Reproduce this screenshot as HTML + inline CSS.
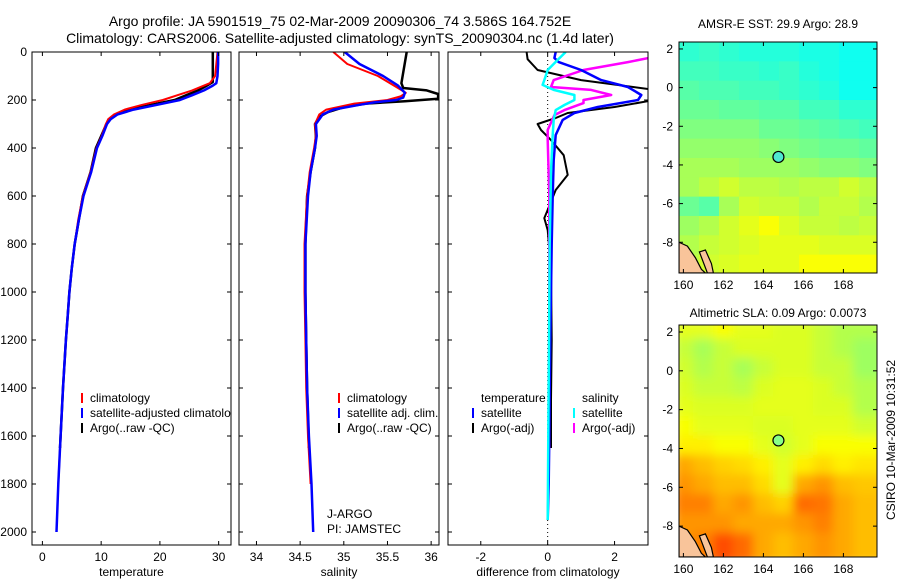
<!DOCTYPE html>
<html><head><meta charset="utf-8"><style>
body{margin:0;background:#fff;}
svg{font-family:"Liberation Sans",sans-serif;}
</style></head><body>
<svg id="c" width="900" height="580" xmlns="http://www.w3.org/2000/svg">
<text x="340" y="26" font-size="14" text-anchor="middle">Argo profile: JA 5901519_75 02-Mar-2009 20090306_74 3.586S 164.752E</text>
<text x="340" y="43" font-size="14" text-anchor="middle">Climatology: CARS2006. Satellite-adjusted climatology: synTS_20090304.nc (1.4d later)</text>
<text x="778" y="28" font-size="12" text-anchor="middle">AMSR-E SST: 29.9 Argo: 28.9</text>
<text x="778" y="317" font-size="12" text-anchor="middle">Altimetric SLA: 0.09 Argo: 0.0073</text>
<text transform="translate(895,440) rotate(-90)" font-size="12" text-anchor="middle">CSIRO 10-Mar-2009 10:31:52</text>
<text x="327" y="518" font-size="12">J-ARGO</text>
<text x="327" y="533" font-size="12">PI: JAMSTEC</text>
</svg>
<script>
// ---- profile data ----
const tDepthBlue=[0,50,100,130,140,160,180,200,220,240,260,280,300,350,400,500,600,700,800,900,1000,1100,1200,1400,1600,1800,2000];
const tempSat=[29.9,29.9,29.8,29.6,29.0,27.5,25.5,23.4,19.5,15.5,12.8,11.6,11.0,10.2,9.3,8.3,7.0,6.2,5.5,5.0,4.6,4.3,4.0,3.5,3.1,2.7,2.4];
const tDepthRed=[0,50,100,130,140,160,180,200,220,240,260,280,300,350,400,500,600,700,800,900,1000,1100,1200,1400,1600,1800];
const tempClim=[29.8,29.6,29.4,28.5,27.5,25.5,23.0,20.5,17.0,14.0,12.2,11.2,10.8,10.1,9.2,8.2,6.9,6.1,5.5,5.0,4.6,4.3,4.0,3.5,3.1,2.7];
const tDepthArgo=[0,100,125,140,160,180,200,220,240,260,280,300,350,400,500,600,700,800,900,1000,1100,1200,1400,1650];
const tempArgo=[29.0,29.0,29.0,28.0,26.5,24.5,22.5,18.5,15.0,12.5,11.4,10.9,10.0,9.1,8.2,6.9,6.2,5.5,5.0,4.6,4.3,4.0,3.5,3.0];

const sDepthBlue=[0,50,100,140,170,190,200,210,220,240,260,300,350,400,500,600,800,1000,1200,1400,1600,1800,2000];
const salSat=[35.01,35.18,35.45,35.62,35.70,35.68,35.60,35.35,35.18,34.88,34.76,34.68,34.69,34.67,34.62,34.59,34.56,34.56,34.57,34.58,34.60,34.63,34.65];
const sDepthRed=[0,50,100,150,170,185,200,215,240,260,300,350,400,500,600,800,1000,1200,1400,1600,1800];
const salClim=[34.88,35.04,35.39,35.62,35.71,35.65,35.50,35.12,34.80,34.72,34.67,34.68,34.66,34.61,34.58,34.55,34.55,34.56,34.57,34.59,34.62];
const sDepthArgo=[0,130,150,160,175,195,205,215,230,250,270,300,350,400,500,600,800,1000,1200,1400,1650];
const salArgo=[35.72,35.66,35.68,35.95,36.08,36.08,35.70,35.25,35.00,34.82,34.72,34.67,34.68,34.67,34.62,34.58,34.56,34.56,34.57,34.58,34.60];

const dDepthTS=[0,25,42,75,117,146,179,200,229,254,283,346,450,600,800,1000,1200,1400,1600,1800,1950];
const diffTempSat=[0.24,0.2,0.33,1.0,1.6,2.4,2.8,2.7,1.5,0.8,0.45,0.24,0.18,0.15,0.12,0.1,0.08,0.06,0.05,0.03,0.0];
const dDepthTA=[0,30,75,117,158,200,229,254,275,300,325,367,430,512,575,658,692,742,900,1200,1450,1650];
const diffTempArgo=[-0.63,-0.6,-0.3,1.0,3.2,3.2,2.0,0.6,0.24,-0.3,-0.2,0.1,0.48,0.6,0.24,0.0,-0.1,0.0,0.1,0.12,0.1,0.1];
const dDepthSS=[0,33,75,117,137,158,179,200,221,242,283,346,500,800,1200,1600,1950];
const diffSalSat=[0.54,0.3,0.0,-0.1,-0.15,0.18,0.8,0.8,0.5,0.24,0.18,0.15,0.1,0.06,0.04,0.02,0.0];
const dDepthSA=[20,42,75,117,146,158,179,200,213,242,263,325,367,600,1000,1400,1650];
const diffSalArgo=[3.2,2.4,1.07,0.18,0.1,1.3,1.9,1.07,1.07,0.5,0.2,0.0,0.0,0.05,0.05,0.05,0.05];

// ---- map data (jet colormap index 0..1), rows north->south, cols west->east (1 deg cells) ----
const sstGrid=[
[0.42,0.43,0.42,0.41,0.41,0.41,0.40,0.40,0.39,0.39],
[0.44,0.44,0.43,0.43,0.42,0.43,0.41,0.40,0.39,0.39],
[0.46,0.45,0.45,0.44,0.44,0.43,0.42,0.41,0.39,0.39],
[0.48,0.48,0.47,0.47,0.46,0.46,0.44,0.44,0.42,0.42],
[0.50,0.50,0.50,0.50,0.48,0.48,0.47,0.46,0.45,0.44],
[0.52,0.52,0.52,0.52,0.51,0.50,0.49,0.48,0.48,0.47],
[0.54,0.54,0.54,0.53,0.53,0.53,0.52,0.51,0.51,0.50],
[0.54,0.56,0.58,0.56,0.56,0.55,0.56,0.56,0.58,0.56],
[0.48,0.46,0.54,0.58,0.57,0.57,0.55,0.57,0.57,0.55],
[0.53,0.55,0.58,0.60,0.62,0.59,0.57,0.57,0.56,0.57],
[0.55,0.57,0.58,0.59,0.60,0.60,0.60,0.59,0.59,0.59],
[0.56,0.58,0.59,0.60,0.60,0.60,0.62,0.62,0.62,0.62]];
const slaGrid=[
[0.60,0.60,0.62,0.60,0.60,0.59,0.59,0.57,0.55,0.55],
[0.57,0.54,0.57,0.59,0.59,0.59,0.59,0.57,0.55,0.53],
[0.58,0.55,0.57,0.54,0.57,0.59,0.59,0.57,0.57,0.53],
[0.59,0.57,0.57,0.56,0.59,0.60,0.60,0.59,0.57,0.55],
[0.60,0.59,0.59,0.59,0.60,0.60,0.60,0.59,0.59,0.55],
[0.62,0.60,0.60,0.60,0.59,0.59,0.60,0.60,0.60,0.58],
[0.64,0.64,0.62,0.62,0.60,0.58,0.60,0.62,0.62,0.62],
[0.71,0.69,0.67,0.66,0.64,0.60,0.64,0.66,0.64,0.65],
[0.73,0.71,0.69,0.69,0.66,0.60,0.71,0.73,0.69,0.68],
[0.75,0.75,0.71,0.73,0.69,0.67,0.77,0.76,0.71,0.69],
[0.73,0.73,0.73,0.71,0.71,0.71,0.73,0.75,0.71,0.69],
[0.73,0.75,0.80,0.77,0.71,0.69,0.71,0.73,0.71,0.69]];
const depthTicks=[0,200,400,600,800,1000,1200,1400,1600,1800,2000];
const tempTicks=[0,10,20,30];
const salTicks=[34,34.5,35,35.5,36];
const salTickLabels=["34","34.5","35","35.5","36"];
const diffTicks=[-2,0,2];
const lonTicks=[160,162,164,166,168];
const latTicks=[2,0,-2,-4,-6,-8];

const NS="http://www.w3.org/2000/svg";
const svg=document.getElementById('c');
function mk(tag,attrs,parent){const e=document.createElementNS(NS,tag);for(const k in attrs)e.setAttribute(k,attrs[k]);(parent||svg).appendChild(e);return e;}
const yD=d=>52+d*0.24;
const PTOP=52,PBOT=545;
const panels=[
 {x0:32,x1:231,min:-1.77,max:32.1,name:'temperature'},
 {x0:239,x1:439,min:33.80,max:36.09,name:'salinity'},
 {x0:448,x1:648,min:-2.98,max:3.0,name:'difference'}];
panels.forEach((p,i)=>{p.sx=v=>p.x0+(v-p.min)/(p.max-p.min)*(p.x1-p.x0);
 const cp=mk('clipPath',{id:'cp'+i});mk('rect',{x:p.x0,y:PTOP,width:p.x1-p.x0,height:PBOT-PTOP},cp);});

function line(pi,depths,vals,color,w,name){
 const p=panels[pi];
 const pts=depths.map((d,i)=>p.sx(vals[i]).toFixed(1)+','+yD(d).toFixed(1)).join(' ');
 const e=mk('polyline',{points:pts,fill:'none',stroke:color,'stroke-width':w,'clip-path':'url(#cp'+pi+')','stroke-linejoin':'round'});
 
 
}
{const p=panels[2];const z=mk('line',{x1:p.sx(0),x2:p.sx(0),y1:PTOP,y2:PBOT,stroke:'#000','stroke-width':1,'stroke-dasharray':'1,3'});

}

line(0,tDepthArgo,tempArgo,'#000',2.5,'temp-argo-line');
line(0,tDepthRed,tempClim,'#f00',2,'temp-climatology-line');
line(0,tDepthBlue,tempSat,'#00f',2.5,'temp-satellite-line');
line(1,sDepthArgo,salArgo,'#000',2.5,'sal-argo-line');
line(1,sDepthRed,salClim,'#f00',2,'sal-climatology-line');
line(1,sDepthBlue,salSat,'#00f',2.5,'sal-satellite-line');
line(2,dDepthTA,diffTempArgo,'#000',2,'diff-temp-argo-line');
line(2,dDepthSA,diffSalArgo,'#f0f',2.5,'diff-sal-argo-line');
line(2,dDepthTS,diffTempSat,'#00f',2.5,'diff-temp-satellite-line');
line(2,dDepthSS,diffSalSat,'#0ff',2.5,'diff-sal-satellite-line');

panels.forEach((p,i)=>{
 const r=mk('rect',{x:p.x0,y:PTOP,width:p.x1-p.x0,height:PBOT-PTOP,fill:'none',stroke:'#000','stroke-width':1});
 
 
 depthTicks.forEach(d=>{const y=yD(d);
  mk('line',{x1:p.x0,x2:p.x0+4,y1:y,y2:y,stroke:'#000'});mk('line',{x1:p.x1,x2:p.x1-4,y1:y,y2:y,stroke:'#000'});
  if(i===0){const t=mk('text',{x:p.x0-5,y:y+4,'font-size':12,'text-anchor':'end'});t.textContent=d;
   
   }
 });
 const ticks=i===0?tempTicks:i===1?salTicks:diffTicks;
 ticks.forEach((v,k)=>{const x=p.sx(v);
  mk('line',{x1:x,x2:x,y1:PTOP,y2:PTOP+4,stroke:'#000'});mk('line',{x1:x,x2:x,y1:PBOT,y2:PBOT-4,stroke:'#000'});
  const t=mk('text',{x:x,y:561,'font-size':12,'text-anchor':'middle'});t.textContent=i===1?salTickLabels[k]:String(v);
  
  });
 const xl=mk('text',{x:(p.x0+p.x1)/2,y:576,'font-size':12,'text-anchor':'middle'});
 xl.textContent=i===0?'temperature':i===1?'salinity':'difference from climatology';
 
 
});

function legend(x,y,color,label,name,clipTo){
 mk('line',{x1:x,x2:x,y1:y-9,y2:y+1,stroke:color,'stroke-width':2});
 const t=mk('text',{x:x+8,y:y,'font-size':12});t.textContent=label;
 if(clipTo!==undefined)t.setAttribute('clip-path','url(#cp'+clipTo+')');
 
 
}
legend(82,402,'#f00','climatology','legend-climatology');
legend(82,417,'#00f','satellite-adjusted climatology','legend-satellite-adjusted',0);
legend(82,432,'#000','Argo(..raw -QC)','legend-argo');
legend(339,402,'#f00','climatology','legend-climatology-sal');
legend(339,417,'#00f','satellite adj. clim.','legend-satellite-sal');
legend(339,432,'#000','Argo(..raw -QC)','legend-argo-sal');
{const t=mk('text',{x:481,y:402,'font-size':12});t.textContent='temperature';
 
 
 const s=mk('text',{x:582,y:402,'font-size':12});s.textContent='salinity';
 
 }
legend(473,417,'#00f','satellite','legend-temp-satellite');
legend(473,432,'#000','Argo(-adj)','legend-temp-argo');
legend(574,417,'#0ff','satellite','legend-sal-satellite');
legend(574,432,'#f0f','Argo(-adj)','legend-sal-argo');

function jet(t){const c=v=>Math.round(255*Math.max(0,Math.min(1,v)));
 return 'rgb('+c(1.5-Math.abs(4*t-3))+','+c(1.5-Math.abs(4*t-2))+','+c(1.5-Math.abs(4*t-1))+')';}
function drawMap(grid,top,bot,name,blur){
 const x0=679,x1=877,lon0=159.78,lon1=169.68,lat0=2.36,lat1=-9.59;
 const sx=l=>x0+(l-lon0)/(lon1-lon0)*(x1-x0);
 const sy=l=>top+(lat0-l)/(lat0-lat1)*(bot-top);
 const id='mc'+name;const cp=mk('clipPath',{id:id});mk('rect',{x:x0,y:top,width:x1-x0,height:bot-top},cp);
 const g=mk('g',{'clip-path':'url(#'+id+')'});
 
 
 let inner=g;
 if(blur){const f=mk('filter',{id:'bl'+name,x:'-5%',y:'-5%',width:'110%',height:'110%'});mk('feGaussianBlur',{stdDeviation:5},f);
  inner=mk('g',{filter:'url(#bl'+name+')'},g);}
 grid.forEach((row,r)=>row.forEach((v,c)=>{
  const la=lat0-r, lo=lon0+c;
  const cell=mk('rect',{x:sx(lo)-(blur?6:0),y:sy(la)-(blur?6:0),width:(sx(lo+1)-sx(lo))+(blur?12:0.5),height:(sy(la-1)-sy(la))+(blur?12:0.5),fill:jet(v)},inner);
  
  
 }));
 const land=mk('path',{d:`M${x0},${sy(-8.0)} L${sx(160.2)},${sy(-8.2)} L${sx(160.6)},${sy(-8.8)} L${sx(160.9)},${sy(-9.4)} L${sx(161.1)},${bot} L${x0},${bot} Z M${sx(160.8)},${sy(-8.5)} L${sx(161.1)},${sy(-8.4)} L${sx(161.4)},${sy(-9.1)} L${sx(161.5)},${bot} L${sx(161.2)},${bot} Z`,fill:'#f9c49a',stroke:'#000','stroke-width':1.2},g);
 
 
 const fr=mk('rect',{x:x0,y:top,width:x1-x0,height:bot-top,fill:'none',stroke:'#000'});
 
 
 const ci=mk('circle',{cx:sx(164.752),cy:sy(-3.586),r:5.5,fill:blur?'#8f8':'#4ee8d0',stroke:'#000','stroke-width':1.2});
 
 
 lonTicks.forEach(l=>{const x=sx(l);mk('line',{x1:x,x2:x,y1:top,y2:top+4,stroke:'#000'});mk('line',{x1:x,x2:x,y1:bot,y2:bot-4,stroke:'#000'});
  const t=mk('text',{x:x,y:bot+16,'font-size':12,'text-anchor':'middle'});t.textContent=l;
  
  });
 latTicks.forEach(l=>{const y=sy(l);mk('line',{x1:x0,x2:x0+4,y1:y,y2:y,stroke:'#000'});mk('line',{x1:x1,x2:x1-4,y1:y,y2:y,stroke:'#000'});
  const t=mk('text',{x:x0-6,y:y+4,'font-size':12,'text-anchor':'end'});t.textContent=l;
  
  });
}
drawMap(sstGrid,42,273,'sst',false);
drawMap(slaGrid,325,557,'sla',true);
</script>
</body></html>
